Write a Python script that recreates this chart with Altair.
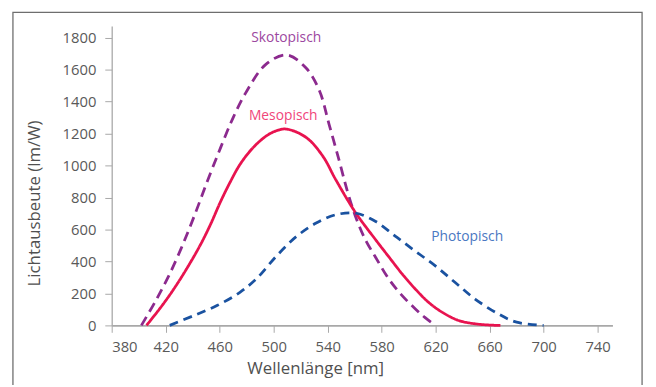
import altair as alt
import pandas as pd

# Skotopisch (scotopic)
sko_nm = [402, 412, 421.7, 431.4, 441.2, 451, 460.7, 470, 480, 494, 509.5, 524, 534, 541, 548.5, 554.6, 560.7, 568, 575.6, 585.4, 595.2, 605, 612, 619.8]
sko_val = [0, 145, 300, 480, 685, 905, 1112, 1300, 1465, 1631, 1692, 1610, 1466, 1259, 1032, 840, 680, 535, 425, 289, 186, 103, 50, 0]

# Mesopisch (mesopic)
meso_nm = [405.8, 416.8, 426.6, 436.3, 446.1, 453.4, 460.7, 468, 475.3, 485.1, 494.9, 502.2, 509.5, 524, 536.3, 546.1, 560.7, 575.6, 585.4, 595.2, 605, 614.8, 624.7, 636.9, 649.2, 660, 668]
meso_val = [0, 118, 235, 365, 510, 635, 775, 900, 1010, 1115, 1187, 1218, 1228, 1176, 1060, 910, 705, 535, 428, 322, 227, 144, 83, 31, 10, 2, 0]

# Photopisch (photopic)
pho_nm = [423, 441, 458, 475, 487.6, 502, 517, 531.5, 546, 560.7, 575.6, 590.3, 605, 619.8, 634.5, 649.2, 666.4, 680, 700]
pho_val = [0, 62, 124, 207, 295, 433, 557, 640, 692, 702, 650, 557, 464, 372, 268, 165, 72, 20, 0]

series_names = ["Skotopisch", "Mesopisch", "Photopisch"]
line_colors = ["#8C2A8E", "#E8134F", "#1A52A0"]
label_colors = ["#9C47A0", "#F0457A", "#4A78C2"]
dashes = [[10, 6], [1, 0], [9, 6]]

# label anchor positions (data coordinates)
label_nm = [509.3, 507.1, 643.4]
label_val = [1796, 1311, 555]

x_ticks = [380, 420, 460, 500, 540, 580, 620, 660, 700, 740]
y_ticks = [0, 200, 400, 600, 800, 1000, 1200, 1400, 1600, 1800]

rows = []
for name, xs, ys in [("Skotopisch", sko_nm, sko_val), ("Mesopisch", meso_nm, meso_val), ("Photopisch", pho_nm, pho_val)]:
    for i, (a, b) in enumerate(zip(xs, ys)):
        rows.append({"series": name, "nm": a, "val": b, "order": i})
df = pd.DataFrame(rows)
lab = pd.DataFrame({"series": series_names, "nm": label_nm, "val": label_val})

FONT = "Open Sans"
xscale = alt.Scale(domain=[380, 751], nice=False, zero=False)
yscale = alt.Scale(domain=[0, 1872], nice=False)

xaxis = alt.Axis(values=x_ticks, title="Wellenlänge [nm]", format="d", labelOverlap=False,
                 domainWidth=2, labelPadding=7, titleX=206, titleY=49, titleAnchor="middle",
                 titleBaseline="alphabetic")
yaxis = alt.Axis(values=y_ticks, title="Lichtausbeute (lm/W)", format="d", labelOverlap=False,
                 domainWidth=1.3, labelPadding=9, titleX=-69, titleY=179, titleAngle=-90,
                 titleAnchor="middle", titleBaseline="bottom")

lines = alt.Chart(df).mark_line(strokeWidth=2.8, interpolate="catmull-rom").encode(
    x=alt.X("nm:Q", scale=xscale, axis=xaxis),
    y=alt.Y("val:Q", scale=yscale, axis=yaxis),
    color=alt.Color("series:N", scale=alt.Scale(domain=series_names, range=line_colors), legend=None),
    strokeDash=alt.StrokeDash("series:N", scale=alt.Scale(domain=series_names, range=dashes), legend=None),
    order="order:Q",
)

labels = alt.Chart(lab).mark_text(fontSize=14, font=FONT, align="center", baseline="middle").encode(
    x=alt.X("nm:Q", scale=xscale, axis=xaxis),
    y=alt.Y("val:Q", scale=yscale, axis=yaxis),
    text="series:N",
    color=alt.Color("series:N", scale=alt.Scale(domain=series_names, range=label_colors), legend=None),
)

frame = alt.Chart(pd.DataFrame({"a": [0]})).mark_rect(filled=False, stroke="#6E6E6E", strokeWidth=1.3).encode(
    x=alt.value(-100), x2=alt.value(537), y=alt.value(-14), y2=alt.value(420)
)

chart = alt.layer(frame, lines, labels).resolve_scale(color="independent").properties(
    width=507, height=303,
    autosize=alt.AutoSizeParams(type="none"),
    padding={"left": 105, "top": 16, "right": 36, "bottom": 58},
    background="white",
).configure_axis(
    grid=False, domainColor="#A8A8A8", tickColor="#A8A8A8", tickSize=7, tickWidth=1,
    labelFontSize=15, labelColor="#595959", labelFont=FONT,
    titleFontSize=17, titleFont=FONT, titleColor="#505050", titleFontWeight="normal",
).configure_view(strokeWidth=0, stroke="transparent")

chart.save("out.html", embed_options={"renderer": "svg", "actions": False})
